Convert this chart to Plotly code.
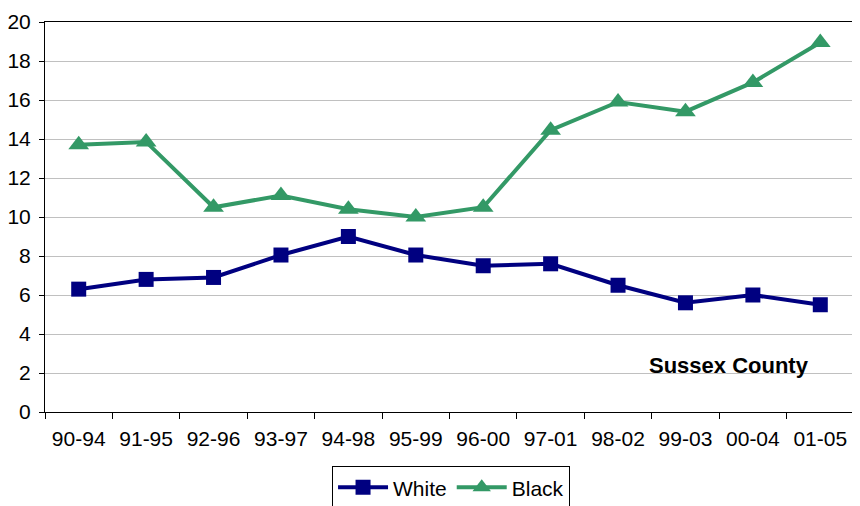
import plotly.graph_objects as go

periods = ["90-94", "91-95", "92-96", "93-97", "94-98", "95-99", "96-00",
           "97-01", "98-02", "99-03", "00-04", "01-05"]
white = [6.3, 6.8, 6.9, 8.05, 9.0, 8.05, 7.5, 7.6, 6.5, 5.6, 6.0, 5.5]
black = [13.7, 13.85, 10.5, 11.1, 10.4, 10.0, 10.5, 14.45, 15.9, 15.4, 16.9, 18.95]

FONT = "Liberation Sans, Arial, sans-serif"

fig = go.Figure()
fig.add_trace(go.Scatter(
    x=periods, y=white, name="White", mode="lines+markers",
    line=dict(color="#000080", width=4),
    marker=dict(symbol="square", size=15, color="#000080"),
))
fig.add_trace(go.Scatter(
    x=periods, y=black, name="Black", mode="lines+markers",
    line=dict(color="#339966", width=4),
    marker=dict(symbol="triangle-up", size=18, color="#339966"),
))

fig.add_annotation(
    text="<b>Sussex County</b>",
    xref="paper", yref="y", x=0.846, y=2.4, xanchor="center",
    showarrow=False, font=dict(family=FONT, size=22, color="black"),
)

# page body has an 8px margin, so the figure is 8px smaller and offset
fig.update_layout(
    width=852, height=498,
    margin=dict(l=37, r=6, t=14, b=94, autoexpand=False),
    paper_bgcolor="white", plot_bgcolor="white",
    font=dict(family=FONT, size=21, color="black"),
    showlegend=True,
    legend=dict(
        orientation="h", xref="container", yref="container",
        x=0.52, xanchor="center", y=0.08, yanchor="top",
        bordercolor="black", borderwidth=1, font=dict(size=21),
        itemwidth=50,
    ),
    xaxis=dict(
        type="category", range=[-0.5, 11.5], tickson="boundaries",
        ticks="outside", ticklen=6, tickcolor="black",
        showline=True, linecolor="black", linewidth=1, mirror=True,
        showgrid=False, tickfont=dict(size=21), automargin=False,
        ticklabelstandoff=8,
    ),
    yaxis=dict(
        range=[0, 20], dtick=2, ticks="outside", ticklen=5, tickcolor="black",
        showline=True, linecolor="black", linewidth=1, mirror=True,
        showgrid=True, gridcolor="#c0c0c0", gridwidth=1,
        tickfont=dict(size=21), zeroline=False, automargin=False,
        ticklabelstandoff=4,
    ),
)

fig.write_html("out.html")
